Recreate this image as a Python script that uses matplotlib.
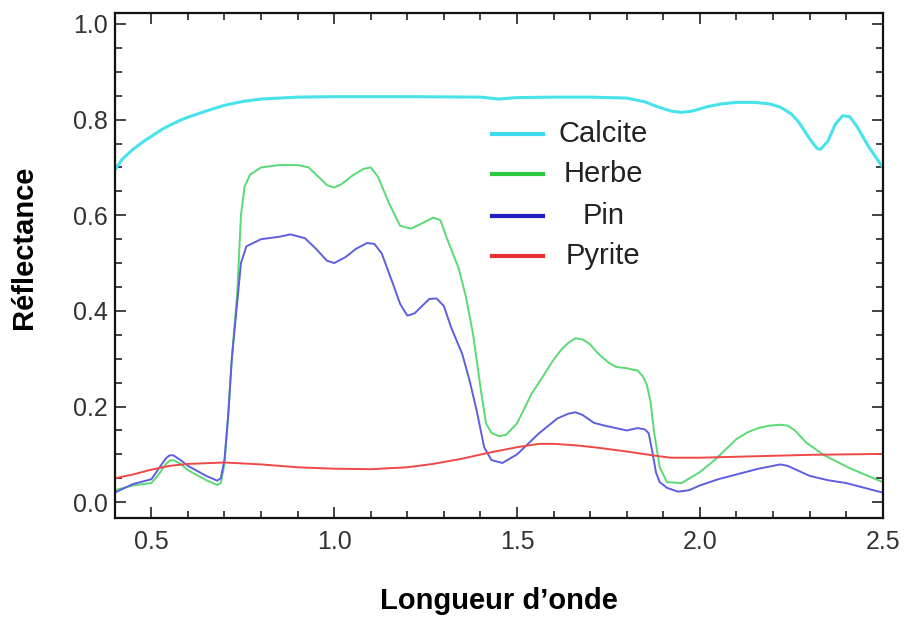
import matplotlib
matplotlib.use("Agg")
import matplotlib.pyplot as plt
from matplotlib.ticker import MultipleLocator
from matplotlib.lines import Line2D

plt.rcParams['font.family'] = ['Liberation Sans', 'DejaVu Sans']

# courbes (longueur d'onde en micrometres, reflectance)
x_calcite = [0.40, 0.42, 0.45, 0.48, 0.50, 0.53, 0.55, 0.58, 0.60, 0.65, 0.70, 0.75, 0.80, 0.90, 1.00,
             1.20, 1.40, 1.45, 1.50, 1.60, 1.70, 1.80, 1.85, 1.88, 1.92, 1.95, 1.98, 2.02, 2.06, 2.10,
             2.15, 2.19, 2.22, 2.25, 2.27, 2.30, 2.32, 2.33, 2.35, 2.37, 2.39, 2.41, 2.43, 2.46, 2.50]
calcite = [0.695, 0.717, 0.738, 0.755, 0.765, 0.780, 0.788, 0.799, 0.805, 0.818, 0.830, 0.838, 0.843, 0.847, 0.848,
           0.848, 0.847, 0.843, 0.846, 0.847, 0.847, 0.845, 0.837, 0.828, 0.818, 0.815, 0.818, 0.827, 0.833, 0.836,
           0.836, 0.833, 0.826, 0.812, 0.795, 0.760, 0.740, 0.738, 0.755, 0.790, 0.808, 0.806, 0.785, 0.745, 0.700]

x_herbe = [0.40, 0.45, 0.50, 0.52, 0.54, 0.55, 0.56, 0.58, 0.60, 0.65, 0.68, 0.69, 0.70, 0.71, 0.72, 0.735,
           0.745, 0.755, 0.77, 0.80, 0.85, 0.90, 0.93, 0.96, 0.98, 1.00, 1.02, 1.05, 1.08, 1.10, 1.12,
           1.15, 1.18, 1.21, 1.24, 1.27, 1.29, 1.31, 1.34, 1.36, 1.38, 1.40, 1.415, 1.43, 1.45, 1.47,
           1.50, 1.54, 1.57, 1.60, 1.62, 1.64, 1.66, 1.68, 1.70, 1.72, 1.75, 1.77, 1.80, 1.83, 1.845,
           1.855, 1.865, 1.875, 1.89, 1.91, 1.95, 2.00, 2.04, 2.10, 2.13, 2.16, 2.19, 2.22, 2.24, 2.26,
           2.29, 2.34, 2.41, 2.50]
herbe = [0.025, 0.035, 0.040, 0.058, 0.080, 0.087, 0.088, 0.080, 0.067, 0.046, 0.036, 0.040, 0.080, 0.180, 0.300,
         0.440, 0.600, 0.660, 0.685, 0.700, 0.705, 0.705, 0.700, 0.678, 0.663, 0.658, 0.665, 0.683, 0.697, 0.700,
         0.680, 0.625, 0.578, 0.572, 0.583, 0.595, 0.590, 0.548, 0.490, 0.430, 0.350, 0.240, 0.165, 0.145, 0.138,
         0.141, 0.165, 0.227, 0.262, 0.298, 0.318, 0.333, 0.343, 0.340, 0.330, 0.312, 0.292, 0.283, 0.280, 0.275,
         0.262, 0.245, 0.210, 0.145, 0.073, 0.042, 0.040, 0.063, 0.088, 0.132, 0.146, 0.155, 0.160, 0.162, 0.160,
         0.150, 0.125, 0.098, 0.071, 0.042]

x_pin = [0.40, 0.45, 0.50, 0.52, 0.54, 0.55, 0.56, 0.58, 0.60, 0.65, 0.68, 0.69, 0.70, 0.71, 0.72, 0.735,
         0.745, 0.76, 0.80, 0.85, 0.88, 0.92, 0.95, 0.98, 1.00, 1.03, 1.06, 1.09, 1.11, 1.13, 1.16,
         1.18, 1.20, 1.22, 1.24, 1.26, 1.28, 1.30, 1.32, 1.35, 1.37, 1.39, 1.41, 1.43, 1.46, 1.50,
         1.53, 1.56, 1.61, 1.64, 1.66, 1.68, 1.71, 1.74, 1.77, 1.80, 1.83, 1.85, 1.86, 1.87, 1.88,
         1.89, 1.91, 1.94, 1.97, 2.00, 2.05, 2.10, 2.16, 2.20, 2.22, 2.24, 2.26, 2.30, 2.35, 2.40,
         2.45, 2.50]
pin = [0.020, 0.038, 0.048, 0.070, 0.092, 0.098, 0.098, 0.088, 0.076, 0.055, 0.045, 0.050, 0.090, 0.180, 0.300,
       0.420, 0.500, 0.535, 0.550, 0.555, 0.560, 0.552, 0.530, 0.505, 0.500, 0.512, 0.530, 0.542, 0.540, 0.520,
       0.458, 0.415, 0.390, 0.395, 0.410, 0.425, 0.426, 0.410, 0.365, 0.310, 0.255, 0.190, 0.115, 0.088, 0.082,
       0.100, 0.122, 0.144, 0.175, 0.185, 0.188, 0.182, 0.166, 0.160, 0.155, 0.150, 0.155, 0.152, 0.144, 0.105,
       0.062, 0.042, 0.030, 0.022, 0.025, 0.035, 0.048, 0.058, 0.070, 0.076, 0.079, 0.076, 0.069, 0.055, 0.046,
       0.040, 0.030, 0.020]

x_pyrite = [0.40, 0.45, 0.50, 0.55, 0.60, 0.70, 0.80, 0.90, 1.00, 1.10, 1.20, 1.27, 1.35, 1.42,
            1.50, 1.56, 1.60, 1.66, 1.72, 1.80, 1.87, 1.92, 2.00, 2.10, 2.20, 2.30, 2.40, 2.50]
pyrite = [0.050, 0.058, 0.068, 0.076, 0.080, 0.083, 0.079, 0.073, 0.070, 0.069, 0.073, 0.080, 0.091, 0.103,
          0.115, 0.122, 0.122, 0.119, 0.114, 0.106, 0.098, 0.093, 0.093, 0.095, 0.097, 0.099, 0.100, 0.101]

noms = ["Calcite", "Herbe", "Pin", "Pyrite"]
couleurs = ["#48e2ea", "#58da74", "#5e5ee0", "#f04848"]
couleurs_leg = ["#40d8f0", "#30c840", "#2020c0", "#e83030"]

fig = plt.figure(figsize=(9.11, 6.17), dpi=100)
ax = fig.add_axes([0.126, 0.1605, 0.843, 0.8185])

style = dict(solid_joinstyle='round', solid_capstyle='round')
ax.plot(x_calcite, calcite, color=couleurs[0], lw=2.2, **style)
ax.plot(x_herbe, herbe, color=couleurs[1], lw=1.4, **style)
ax.plot(x_pin, pin, color=couleurs[2], lw=1.4, **style)
ax.plot(x_pyrite, pyrite, color=couleurs[3], lw=1.4, **style)

ax.set_xlim(0.4, 2.5)
ax.set_ylim(-0.033, 1.023)

ax.xaxis.set_major_locator(MultipleLocator(0.5))
ax.xaxis.set_minor_locator(MultipleLocator(0.1))
ax.yaxis.set_major_locator(MultipleLocator(0.2))
ax.yaxis.set_minor_locator(MultipleLocator(0.05))
ax.xaxis.set_major_formatter(plt.FormatStrFormatter('%.1f'))
ax.yaxis.set_major_formatter(plt.FormatStrFormatter('%.1f'))

ax.tick_params(which='both', direction='in', top=True, right=True, width=1.2, colors='#222222',
               labelcolor='#333333', labelsize=18)
ax.tick_params(which='major', length=8)
ax.tick_params(which='minor', length=5)
ax.tick_params(axis='y', pad=5)
ax.tick_params(axis='x', pad=9)
for s in ax.spines.values():
    s.set_linewidth(1.6)
    s.set_color('#111111')

ax.set_xlabel("Longueur d’onde", fontsize=21, fontweight='bold')
ax.set_ylabel("Réflectance", fontsize=21, fontweight='bold')
ax.xaxis.set_label_coords(0.5, -0.164)
ax.xaxis.label.set_va('center')
ax.yaxis.set_label_coords(-0.118, 0.535)
ax.yaxis.label.set_va('center')

# legende faite a la main (textes centres)
leg_y = [0.760, 0.681, 0.598, 0.519]
for nom, c, yy in zip(noms, couleurs_leg, leg_y):
    ax.add_line(Line2D([0.491, 0.557], [yy, yy], transform=ax.transAxes, color=c, lw=3))
    ax.text(0.636, yy, nom, transform=ax.transAxes, ha='center', va='center', fontsize=21, color='#222222')

fig.savefig("out.png", dpi=100)
